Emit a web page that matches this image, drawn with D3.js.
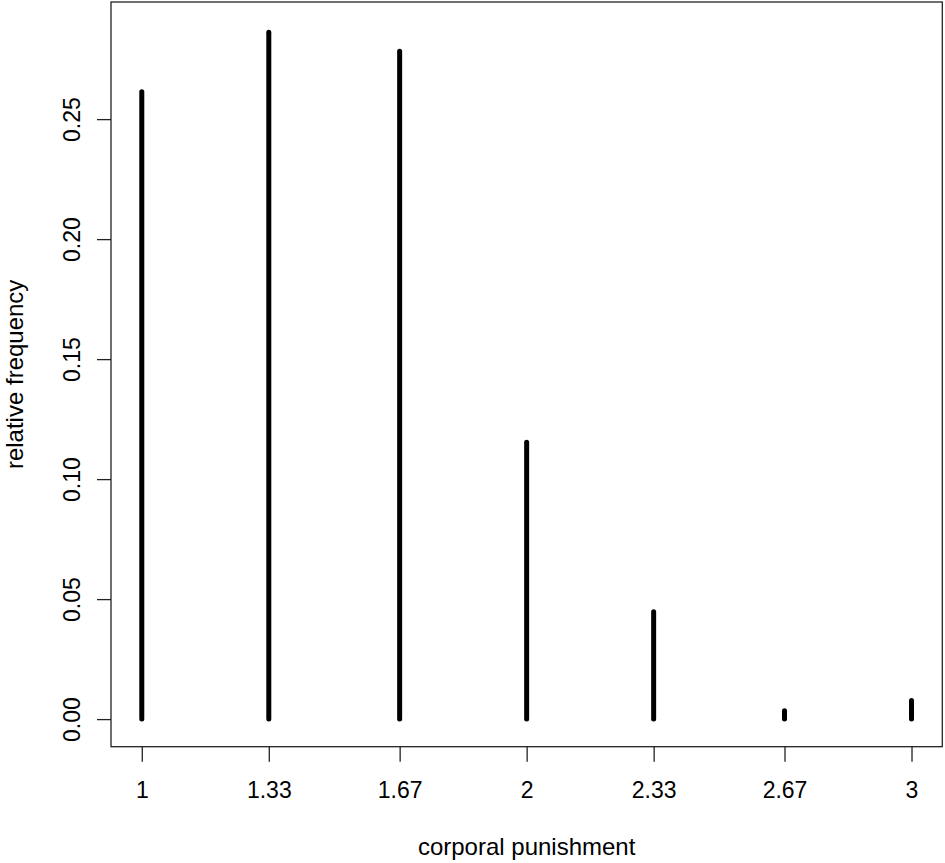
<!DOCTYPE html>
<html>
<head>
<meta charset="utf-8">
<script src="https://cdn.jsdelivr.net/npm/d3@7"></script>
<style>
  body { margin: 0; background: #fff; }
  text { font-family: "Liberation Sans", Arial, Helvetica, sans-serif; fill: #000; }
</style>
</head>
<body>
<div id="chart"></div>
<script>
// data
var scores = [1, 1.33, 1.67, 2, 2.33, 2.67, 3],
    freqs = [0.2614, 0.2862, 0.2783, 0.1154, 0.0447, 0.0035, 0.0077],
    xTickLabels = ["1", "1.33", "1.67", "2", "2.33", "2.67", "3"],
    yTicks = [0, 0.05, 0.10, 0.15, 0.20, 0.25];

var width = 945, height = 863,
    plot = { left: 111, right: 942.3, top: 2, bottom: 746.7 };

var svg = d3.select("#chart").append("svg")
    .attr("width", width)
    .attr("height", height);

var x = d3.scaleLinear().domain([0.92, 3.08]).range([plot.left, plot.right]);
var y = d3.scaleLinear().domain([-0.0115, 0.2988]).range([plot.bottom, plot.top]);

// frame
svg.append("rect")
    .attr("x", plot.left)
    .attr("y", plot.top)
    .attr("width", plot.right - plot.left)
    .attr("height", plot.bottom - plot.top)
    .style("fill", "none")
    .style("stroke", "#222")
    .style("stroke-width", 1.3);

// spikes
svg.selectAll(".spike")
    .data(scores)
    .enter().append("line")
      .attr("class", "spike")
      .attr("x1", function(d) { return x(d); })
      .attr("x2", function(d) { return x(d); })
      .attr("y1", y(0))
      .attr("y2", function(d, i) { return y(freqs[i]); })
      .style("stroke", "#000")
      .style("stroke-width", 5)
      .style("stroke-linecap", "round");

// x axis
var xAxis = d3.axisBottom(x)
    .tickValues(scores)
    .tickFormat(function(d, i) { return xTickLabels[i]; })
    .tickSize(15)
    .tickPadding(20);

var gx = svg.append("g")
    .attr("transform", "translate(0," + plot.bottom + ")")
    .call(xAxis);
gx.select(".domain").remove();
gx.selectAll("line").style("stroke", "#222").style("stroke-width", 1.3);
gx.selectAll("text")
    .style("font-size", "23px")
    .style("font-family", "'Liberation Sans', Arial, sans-serif");

// y axis
var yAxis = d3.axisLeft(y)
    .tickValues(yTicks)
    .tickFormat(d3.format(".2f"))
    .tickSize(14);

var gy = svg.append("g")
    .attr("transform", "translate(" + plot.left + ",0)")
    .call(yAxis);
gy.select(".domain").remove();
gy.selectAll("line").style("stroke", "#222").style("stroke-width", 1.3);
gy.selectAll("text")
    .attr("x", null)
    .attr("dy", null)
    .attr("transform", "translate(-31,0) rotate(-90)")
    .style("text-anchor", "middle")
    .style("font-size", "23px")
    .style("font-family", "'Liberation Sans', Arial, sans-serif");

// axis titles
svg.append("text")
    .attr("x", (plot.left + plot.right) / 2)
    .attr("y", 855)
    .style("text-anchor", "middle")
    .style("font-size", "24px")
    .text("corporal punishment");

svg.append("text")
    .attr("transform", "translate(23," + (plot.top + plot.bottom) / 2 + ") rotate(-90)")
    .style("text-anchor", "middle")
    .style("font-size", "24px")
    .text("relative frequency");
</script>
</body>
</html>
